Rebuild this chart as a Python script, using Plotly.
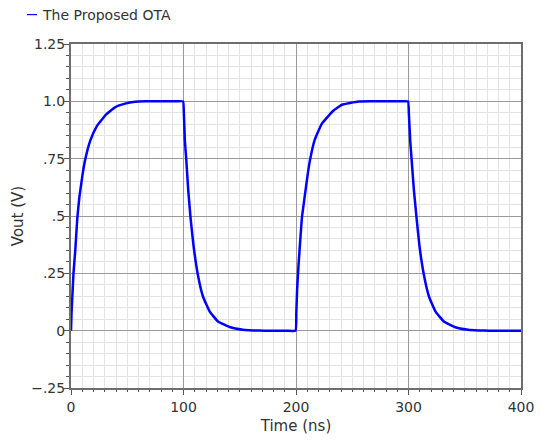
import plotly.graph_objects as go

time_ns = [0, 0.5, 1.4, 2.2, 3.8, 5.6, 7.4, 10.4, 12.7, 17.2, 22.5, 30.5, 39.4, 48, 57, 66, 75, 84, 92, 99.6,
           100.3, 101.2, 102.4, 104.2, 106.3, 109, 112.8, 117.3, 123.2, 130.7, 141, 152.8, 162, 172, 182, 192, 199.6,
           200.3, 201, 202.3, 204, 205.2, 207.6, 210.5, 212.6, 216.5, 223, 233.4, 240.8, 255.5, 266, 276, 286, 294, 299.6,
           300.3, 301.5, 302.7, 304.8, 307.2, 309.8, 313.7, 318.2, 323.9, 331.5, 341, 352.9, 362, 372, 382, 392, 400]
vout = [0, 0.08, 0.17, 0.25, 0.35, 0.49, 0.58, 0.685, 0.748, 0.83, 0.888, 0.939, 0.975, 0.99, 0.998, 1.0, 1.0, 1.0, 1.0, 1.0,
        0.95, 0.83, 0.75, 0.613, 0.49, 0.367, 0.243, 0.149, 0.084, 0.04, 0.016, 0.004, 0.001, 0, 0, 0, 0,
        0.08, 0.18, 0.29, 0.41, 0.49, 0.58, 0.685, 0.748, 0.83, 0.903, 0.96, 0.985, 0.999, 1.0, 1.0, 1.0, 1.0, 1.0,
        0.95, 0.83, 0.75, 0.613, 0.49, 0.367, 0.243, 0.149, 0.084, 0.04, 0.016, 0.004, 0.001, 0, 0, 0, 0]

x_ticks = [0, 100, 200, 300, 400]
y_ticks = [-0.25, 0, 0.25, 0.5, 0.75, 1.0, 1.25]
y_tick_text = ["\u2212.25", "0", ".25", ".5", ".75", "1.0", "1.25"]
series_name = "The Proposed OTA"

FONT = "DejaVu Sans"
TXT = "#333333"

fig = go.Figure()
fig.add_trace(go.Scatter(x=time_ns, y=vout, mode="lines", name=series_name,
                         line=dict(color="#0000ff", width=2.5, shape="spline", smoothing=0.35),
                         showlegend=False))

axis_common = dict(
    showline=True, linecolor="#6e6e6e", linewidth=2, mirror=True,
    ticks="outside", ticklen=5, tickcolor="#555555", tickwidth=1,
    showgrid=True, gridcolor="#9a9a9a", gridwidth=1,
    zeroline=False, automargin=False,
    tickfont=dict(family=FONT, size=14, color=TXT),
)

fig.update_xaxes(range=[0, 400], tickvals=x_ticks, title=dict(text="Time (ns)", standoff=7,
                 font=dict(family=FONT, size=15, color=TXT)),
                 minor=dict(dtick=10, showgrid=True, gridcolor="#e3e3e3", ticks="outside",
                            ticklen=2, tickcolor="#555555"),
                 **axis_common)
fig.update_yaxes(range=[-0.25, 1.25], tickvals=y_ticks, ticktext=y_tick_text,
                 ticklabelstandoff=-4,
                 title=dict(text="Vout (V)", standoff=4, font=dict(family=FONT, size=15, color=TXT)),
                 minor=dict(dtick=0.05, showgrid=True, gridcolor="#e3e3e3", ticks="outside",
                            ticklen=3, tickcolor="#555555"),
                 **axis_common)

fig.add_shape(type="line", xref="paper", yref="paper",
              x0=(27 - 71) / 450, x1=(37 - 71) / 450,
              y0=(440 - 51.5 - 14) / 345, y1=(440 - 51.5 - 14) / 345,
              line=dict(color="#0000ff", width=1.2))
fig.add_annotation(text=series_name, xref="paper", yref="paper",
                   x=(40 - 71) / 450, y=(440 - 51.5 - 14) / 345,
                   xanchor="left", yanchor="middle", showarrow=False,
                   font=dict(family=FONT, size=14, color=TXT))

fig.update_layout(
    width=540, height=440,
    margin=dict(l=71, r=19, t=43.5, b=51.5),
    paper_bgcolor="white", plot_bgcolor="white",
    font=dict(family=FONT, size=14, color=TXT),
)

fig.write_html("out.html")
